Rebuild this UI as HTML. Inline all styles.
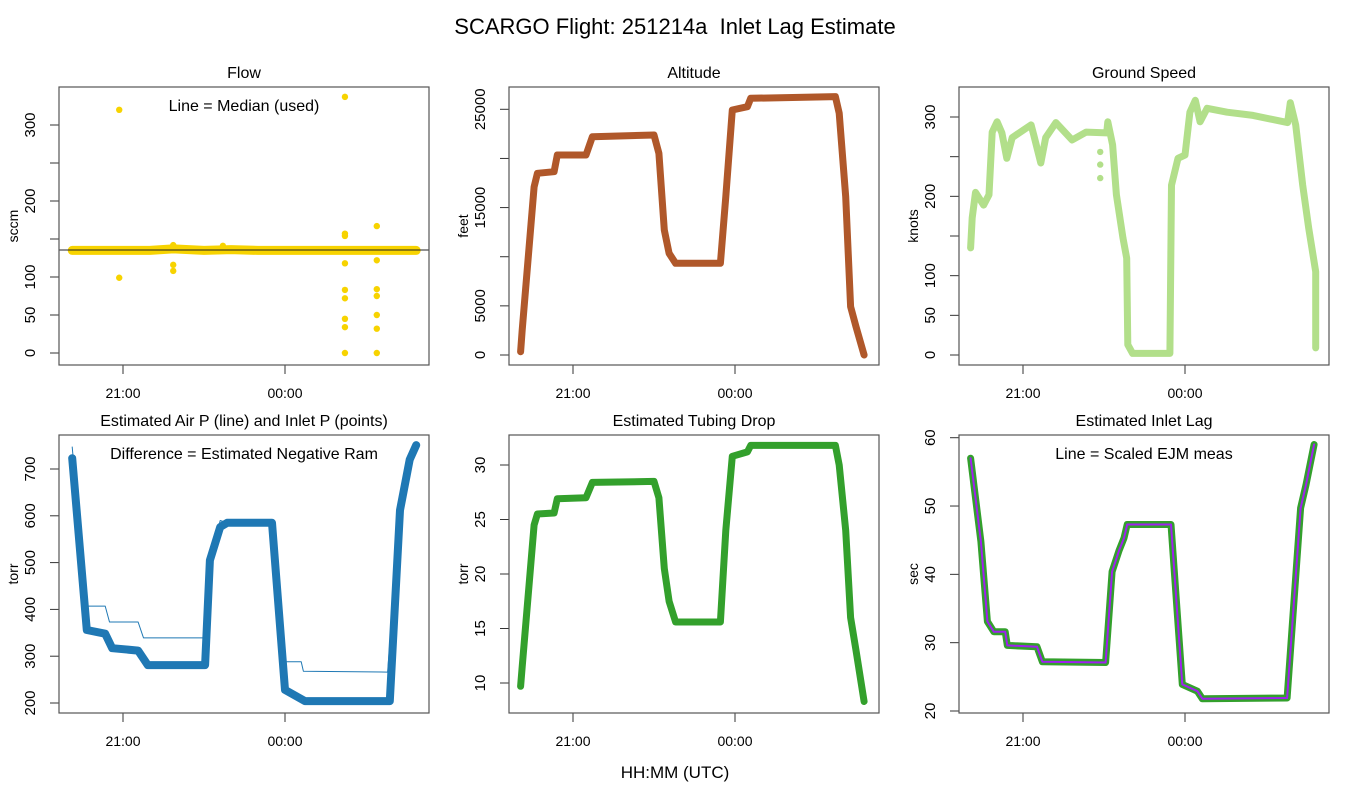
<!DOCTYPE html>
<html><head><meta charset="utf-8"><style>
html,body{margin:0;padding:0;background:#fff;}
svg{display:block;font-family:"Liberation Sans",Arial,sans-serif;}
</style></head><body>
<svg id="c" width="1350" height="800" viewBox="0 0 1350 800">
<text x="675" y="34" text-anchor="middle" font-size="22" style="white-space:pre">SCARGO Flight: 251214a&#160; Inlet Lag Estimate</text>
<text x="675" y="778" text-anchor="middle" font-size="17">HH:MM (UTC)</text>
</svg>
<script>
// ---- data (time in decimal hours; 24 = 00:00) ----
const xTickTimes = [21, 24];
const xTickLabels = ["21:00", "00:00"];

const flowBaseT = [20.06, 20.5, 20.93, 21.5, 21.93, 22.5, 23.0, 23.5, 24.0, 24.5, 25.11, 25.7, 26.0, 26.43];
const flowBaseV = [135, 135, 135, 135, 137, 135, 136, 135, 135, 135, 135, 135, 135, 135];
const flowOutT = [20.93, 20.93, 21.93, 21.93, 21.93, 22.85, 25.11, 25.11, 25.11, 25.11, 25.11, 25.11, 25.11, 25.11, 25.11, 25.7, 25.7, 25.7, 25.7, 25.7, 25.7, 25.7];
const flowOutV = [320, 99, 116, 108, 142, 141, 337, 157, 154, 118, 83, 72, 45, 34, 0, 167, 122, 84, 75, 50, 32, 0];
const flowMedian = 135.5;

const altT = [20.03, 20.06, 20.28, 20.34, 20.65, 20.71, 21.24, 21.36, 22.50, 22.59, 22.69, 22.78, 22.90, 23.73, 23.83, 23.95, 24.23, 24.29, 25.86, 25.93, 26.05, 26.14, 26.24, 26.39];
const altV = [340, 2540, 17100, 18490, 18650, 20350, 20350, 22210, 22390, 20520, 12720, 10350, 9330, 9330, 16110, 24930, 25260, 26120, 26290, 24600, 16110, 4920, 2880, 0];

const spdT = [20.03, 20.06, 20.12, 20.27, 20.37, 20.43, 20.52, 20.61, 20.70, 20.80, 21.15, 21.20, 21.33, 21.42, 21.61, 21.91, 22.17, 22.55, 22.57, 22.66, 22.73, 22.85, 22.92, 22.94, 23.03, 23.72, 23.75, 23.87, 24.0, 24.09, 24.19, 24.28, 24.41, 24.78, 25.26, 25.90, 25.95, 26.05, 26.18, 26.29, 26.42, 26.42];
const spdV = [135, 173, 205, 189, 202, 281, 294, 280, 248, 274, 290, 277, 242, 274, 293, 271, 281, 280, 294, 265, 202, 148, 122, 13, 2, 2, 214, 248, 252, 306, 321, 294, 311, 306, 302, 293, 318, 290, 214, 160, 105, 9];
const spdOutT = [22.43, 22.43, 22.43];
const spdOutV = [256, 240, 223];

const presT = [20.06, 20.33, 20.67, 20.80, 21.28, 21.46, 22.52, 22.61, 22.80, 22.93, 23.76, 23.87, 24.0, 24.37, 25.94, 26.13, 26.31, 26.43];
const presV = [723, 356, 348, 317, 312, 281, 281, 505, 576, 585, 585, 420, 228, 204, 204, 612, 720, 751];
const airT = [20.06, 20.33, 20.67, 20.75, 21.28, 21.38, 22.55, 22.61, 22.80, 22.93, 23.76, 23.87, 23.98, 24.30, 24.34, 25.90, 26.13, 26.31, 26.43];
const airV = [747, 407, 407, 373, 373, 339, 339, 505, 590, 585, 585, 420, 288, 288, 268, 266, 612, 720, 751];

const tubT = [20.03, 20.06, 20.28, 20.34, 20.65, 20.71, 21.24, 21.36, 22.50, 22.59, 22.69, 22.78, 22.90, 23.73, 23.83, 23.95, 24.23, 24.29, 25.86, 25.93, 26.05, 26.14, 26.24, 26.39];
const tubV = [9.7, 11.5, 24.5, 25.5, 25.6, 26.9, 27.0, 28.4, 28.5, 27.0, 20.5, 17.5, 15.6, 15.6, 24.0, 30.8, 31.2, 31.8, 31.8, 30.0, 24.0, 16.0, 13.0, 8.3];

const lagT = [20.03, 20.22, 20.34, 20.46, 20.67, 20.71, 21.26, 21.36, 22.53, 22.65, 22.78, 22.87, 22.93, 23.74, 23.95, 24.23, 24.32, 25.89, 26.14, 26.24, 26.39];
const lagV = [57.0, 44.8, 33.1, 31.6, 31.6, 29.6, 29.4, 27.2, 27.1, 40.4, 43.5, 45.3, 47.3, 47.3, 23.9, 22.9, 21.8, 21.9, 49.7, 53.1, 59.0];
const ejmV = [57.0, 44.8, 33.1, 31.6, 31.6, 29.6, 29.4, 27.2, 27.1, 40.4, 43.5, 45.3, 47.3, 47.3, 23.9, 22.9, 21.8, 21.9, 49.7, 53.1, 59.0];

const flowTicks = [0, 50, 100, 150, 200, 250, 300];
const flowLabels = ["0", "50", "100", "", "200", "", "300"];
const altTicks = [0, 5000, 10000, 15000, 20000, 25000];
const altLabels = ["0", "5000", "", "15000", "", "25000"];
const spdTicks = [0, 50, 100, 150, 200, 250, 300];
const spdLabels = ["0", "50", "100", "", "200", "", "300"];
const presTicks = [200, 300, 400, 500, 600, 700];
const presLabels = ["200", "300", "400", "500", "600", "700"];
const tubTicks = [10, 15, 20, 25, 30];
const tubLabels = ["10", "15", "20", "25", "30"];
const lagTicks = [20, 30, 40, 50, 60];
const lagLabels = ["20", "30", "40", "50", "60"];

// ---- drawing ----
const svg = document.getElementById('c');
const NS = 'http://www.w3.org/2000/svg';
function mk(tag, attrs, parent) {
  const e = document.createElementNS(NS, tag);
  for (const k in attrs) e.setAttribute(k, attrs[k]);
  (parent || svg).appendChild(e);
  return e;
}
const W = 370, H = 278;
function makePanel(p) {
  const g = mk('g', {});
  
  
  const xs = t => p.left + 64 + (t - 21) * 54;
  const ys = v => p.y0 + (v - p.v0) * (p.y1 - p.y0) / (p.v1 - p.v0);
  const cid = 'clip-' + p.name;
  const cp = mk('clipPath', {id: cid}, g);
  mk('rect', {x: p.left, y: p.top, width: W, height: H}, cp);
  const plot = mk('g', {'clip-path': 'url(#' + cid + ')'}, g);
  const tt = mk('text', {x: p.left + W / 2, y: p.top - 9, 'text-anchor': 'middle', 'font-size': 16}, g);
  tt.textContent = p.title;
  
  
  const yt = p.ticks;
  mk('line', {x1: p.left, x2: p.left, y1: ys(yt[0]), y2: ys(yt[yt.length - 1]), stroke: '#333', 'stroke-width': 1}, g);
  yt.forEach((v, i) => {
    const y = ys(v);
    mk('line', {x1: p.left - 9, x2: p.left, y1: y, y2: y, stroke: '#333'}, g);
    if (p.labels[i]) {
      const lx = p.left - 24;
      const tl = mk('text', {x: lx, y: y, 'text-anchor': 'middle', 'font-size': 15, transform: 'rotate(-90 ' + lx + ' ' + y + ')'}, g);
      tl.textContent = p.labels[i];
      
      
    }
  });
  const ylx = p.left - 41, yly = p.top + H / 2;
  const yl = mk('text', {x: ylx, y: yly, 'text-anchor': 'middle', 'font-size': 14, transform: 'rotate(-90 ' + ylx + ' ' + yly + ')'}, g);
  yl.textContent = p.ylab;
  
  
  const bot = p.top + H;
  mk('line', {x1: xs(xTickTimes[0]), x2: xs(xTickTimes[xTickTimes.length - 1]), y1: bot, y2: bot, stroke: '#333'}, g);
  xTickTimes.forEach((t, i) => {
    mk('line', {x1: xs(t), x2: xs(t), y1: bot, y2: bot + 9, stroke: '#333'}, g);
    const xl = mk('text', {x: xs(t), y: bot + 33, 'text-anchor': 'middle', 'font-size': 14}, g);
    xl.textContent = xTickLabels[i];
    
    
  });
  mk('rect', {x: p.left, y: p.top, width: W, height: H, fill: 'none', stroke: '#555', 'stroke-width': 1.2}, g);
  p.draw(plot, xs, ys);
  if (p.note) {
    const n = mk('text', {x: p.left + W / 2, y: p.top + 24, 'text-anchor': 'middle', 'font-size': 16}, g);
    n.textContent = p.note;
    
    
  }
}
function pline(parent, T, V, xs, ys, color, w, name) {
  const d = T.map((t, i) => (i ? 'L' : 'M') + xs(t).toFixed(1) + ' ' + ys(V[i]).toFixed(1)).join(' ');
  const e = mk('path', {d: d, fill: 'none', stroke: color, 'stroke-width': w, 'stroke-linejoin': 'round', 'stroke-linecap': 'round'}, parent);
  
  
  return e;
}
function pts(parent, T, V, xs, ys, color, r, name) {
  T.forEach((t, i) => {
    const c = mk('circle', {cx: xs(t), cy: ys(V[i]), r: r, fill: color}, parent);
    
    
  });
}
const YEL = '#f7d300', BRN = '#b0582a', LGR = '#b2df8a', BLU = '#1f78b4', GRN = '#33a02c', PUR = '#a020f0';

makePanel({name: 'flow-panel', left: 59, top: 87, v0: 0, y0: 353, v1: 300, y1: 125, ticks: flowTicks, labels: flowLabels,
  title: 'Flow', ylab: 'sccm', note: 'Line = Median (used)',
  draw: (g, xs, ys) => {
    pline(g, flowBaseT, flowBaseV, xs, ys, YEL, 9, 'flow-points');
    pts(g, flowOutT, flowOutV, xs, ys, YEL, 3.2, 'flow-outlier');
    const m = mk('line', {x1: 0, x2: 1350, y1: ys(flowMedian), y2: ys(flowMedian), stroke: '#222', 'stroke-width': 1}, g);
    
    
  }});
makePanel({name: 'altitude-panel', left: 509, top: 87, v0: 0, y0: 355, v1: 25000, y1: 109.3, ticks: altTicks, labels: altLabels,
  title: 'Altitude', ylab: 'feet',
  draw: (g, xs, ys) => { pline(g, altT, altV, xs, ys, BRN, 7, 'altitude-series'); }});
makePanel({name: 'ground-speed-panel', left: 959, top: 87, v0: 0, y0: 355, v1: 300, y1: 117, ticks: spdTicks, labels: spdLabels,
  title: 'Ground Speed', ylab: 'knots',
  draw: (g, xs, ys) => { pline(g, spdT, spdV, xs, ys, LGR, 7, 'ground-speed-series'); pts(g, spdOutT, spdOutV, xs, ys, LGR, 3.2, 'ground-speed-outlier'); }});
makePanel({name: 'pressure-panel', left: 59, top: 435, v0: 200, y0: 703, v1: 700, y1: 469, ticks: presTicks, labels: presLabels,
  title: 'Estimated Air P (line) and Inlet P (points)', ylab: 'torr', note: 'Difference = Estimated Negative Ram',
  draw: (g, xs, ys) => { pline(g, presT, presV, xs, ys, BLU, 8, 'inlet-pressure-points'); pline(g, airT, airV, xs, ys, BLU, 1, 'air-pressure-line'); }});
makePanel({name: 'tubing-drop-panel', left: 509, top: 435, v0: 10, y0: 683, v1: 30, y1: 465, ticks: tubTicks, labels: tubLabels,
  title: 'Estimated Tubing Drop', ylab: 'torr',
  draw: (g, xs, ys) => { pline(g, tubT, tubV, xs, ys, GRN, 7, 'tubing-drop-series'); }});
makePanel({name: 'inlet-lag-panel', left: 959, top: 435, v0: 20, y0: 711, v1: 60, y1: 437.7, ticks: lagTicks, labels: lagLabels,
  title: 'Estimated Inlet Lag', ylab: 'sec', note: 'Line = Scaled EJM meas',
  draw: (g, xs, ys) => { pline(g, lagT, lagV, xs, ys, GRN, 7, 'inlet-lag-points'); pline(g, lagT, ejmV, xs, ys, PUR, 2, 'scaled-ejm-line'); }});
</script>
</body></html>
